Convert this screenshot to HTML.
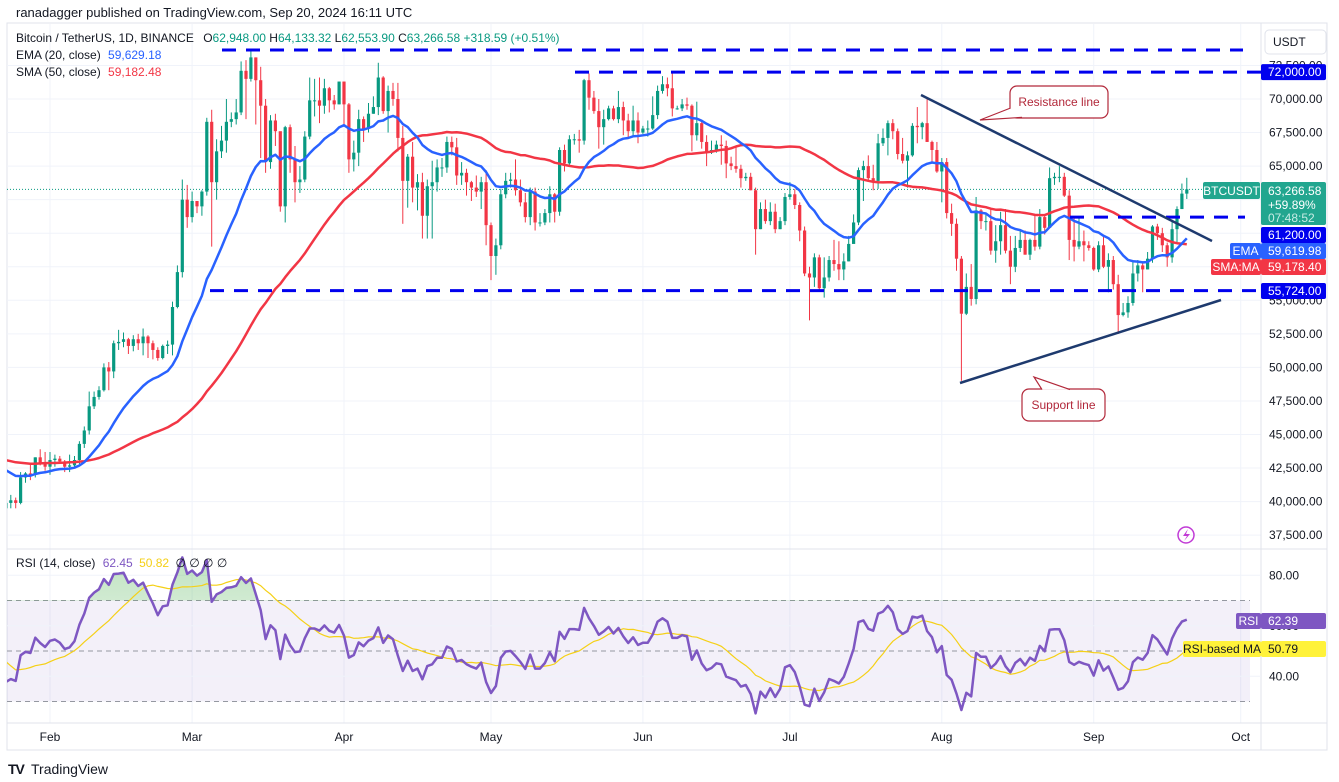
<!DOCTYPE html>
<html><head><meta charset="utf-8"><style>
html,body{margin:0;padding:0;background:#fff;}
svg{display:block;font-family:"Liberation Sans",sans-serif;}
</style></head><body>
<svg id="chart" width="1339" height="782" viewBox="0 0 1339 782">
<defs>
<clipPath id="mainClip"><rect x="7" y="24" width="1254" height="525"/></clipPath>
<clipPath id="rsiClip"><rect x="7" y="550" width="1254" height="173"/></clipPath>
<clipPath id="obClip"><rect x="7" y="550" width="1254" height="51"/></clipPath>
<linearGradient id="obGrad" x1="0" y1="0" x2="0" y2="1"><stop offset="0" stop-color="#4caf50" stop-opacity="0.35"/><stop offset="1" stop-color="#4caf50" stop-opacity="0.03"/></linearGradient>
</defs>
<rect x="0" y="0" width="1339" height="782" fill="#fff"/>
<text x="16" y="17" font-size="13" fill="#131722">ranadagger published on TradingView.com, Sep 20, 2024 16:11 UTC</text>
<rect x="7" y="23" width="1320" height="727" fill="none" stroke="#e0e3eb"/>
<g id="grid"></g>
<line x1="1261" y1="23" x2="1261" y2="750" stroke="#e0e3eb"/>
<line x1="7" y1="549" x2="1327" y2="549" stroke="#e0e3eb"/>
<line x1="7" y1="723" x2="1327" y2="723" stroke="#e0e3eb"/>
<g id="main" clip-path="url(#mainClip)"></g>
<g id="rsi"></g>
<g id="axes"></g>
<g id="legend">
<text x="16" y="42" font-size="12" fill="#131722">Bitcoin / TetherUS, 1D, BINANCE <tspan dx="6">O</tspan><tspan fill="#089981">62,948.00</tspan> <tspan>H</tspan><tspan fill="#089981">64,133.32</tspan> <tspan>L</tspan><tspan fill="#089981">62,553.90</tspan> <tspan>C</tspan><tspan fill="#089981">63,266.58 +318.59 (+0.51%)</tspan></text>
<text x="16" y="59" font-size="12" fill="#131722">EMA (20, close) <tspan dx="4" fill="#2962ff">59,629.18</tspan></text>
<text x="16" y="76" font-size="12" fill="#131722">SMA (50, close) <tspan dx="4" fill="#f23645">59,182.48</tspan></text>
<text x="16" y="567" font-size="12" fill="#131722">RSI (14, close) <tspan dx="4" fill="#7e57c2">62.45</tspan> <tspan dx="3" fill="#f5d016">50.82</tspan> <tspan dx="3">∅ ∅ ∅ ∅</tspan></text>
</g>
<g><rect x="1265" y="30" width="61" height="24" rx="4" fill="#fff" stroke="#e0e3eb"/><text x="1273" y="46" font-size="12" fill="#131722">USDT</text></g>
<g><text x="8" y="774" font-size="14" font-weight="900" fill="#131722" letter-spacing="-1">TV</text><text x="31" y="774" font-size="14" fill="#131722">TradingView</text></g>
</svg>
<script>
const NS="http://www.w3.org/2000/svg";
// prior history (Dec 4 – Jan 22), used only to seed indicators
const histCloses=[41.9,44.1,43.8,43.3,44.2,43.7,43.8,41.2,41.5,42.9,43.0,41.9,42.3,41.4,42.7,42.3,43.7,43.9,44.0,43.7,43.0,43.6,42.5,43.4,42.6,42.1,42.3,42.3,44.2,45.0,42.8,44.2,44.2,43.9,43.9,46.9,46.1,46.6,46.3,42.8,42.8,41.7,42.5,43.1,42.7,41.3,41.6,41.7,41.6,39.5];
// displayed closes Jan 23 – Sep 20 (thousands USDT)
const closes=[39.9,40.1,39.9,41.8,42.1,42.0,43.3,42.9,42.6,
43.1,43.2,43.0,42.6,42.7,43.1,44.3,45.3,47.1,47.8,48.3,50.0,49.7,51.8,51.9,52.1,51.6,52.1,51.8,52.3,51.8,51.3,50.7,51.6,51.7,54.5,57.1,62.5,61.2,
62.4,62.0,63.1,68.3,63.8,66.1,66.9,68.3,68.5,69.0,72.1,71.5,73.1,71.4,69.5,65.3,68.4,67.6,62.0,67.9,65.5,63.8,64.0,67.2,69.9,69.9,69.5,70.8,69.9,69.6,71.3,
69.6,65.5,66.0,68.5,67.8,68.9,69.4,71.6,69.1,70.6,70.0,67.1,63.9,65.7,63.4,63.8,61.3,63.5,63.8,64.9,64.9,66.8,66.4,64.3,64.5,63.8,63.4,63.1,63.8,60.6,
58.3,59.1,62.9,63.9,64.0,63.2,62.3,61.2,63.1,60.8,60.8,61.5,62.9,61.6,66.2,65.2,67.0,67.0,66.9,71.4,70.1,69.1,67.9,68.5,69.3,68.5,69.4,68.4,67.6,68.4,67.5,
67.8,67.8,68.8,70.6,71.1,70.8,69.3,69.3,69.6,69.5,67.3,68.2,66.8,66.0,66.2,66.6,66.5,65.2,65.0,64.8,64.1,64.2,63.2,60.3,61.8,60.9,61.6,60.3,60.9,62.7,
62.9,62.1,60.2,57.0,56.7,58.2,55.9,56.7,58.0,57.7,57.3,57.9,59.2,60.8,64.7,65.0,64.1,63.9,66.7,67.1,68.2,67.6,65.9,65.4,65.8,68.0,67.9,68.2,66.8,66.2,64.6,
65.3,61.5,60.7,58.1,54.0,56.0,55.1,61.7,60.9,60.9,58.7,59.4,60.6,58.7,57.5,58.9,59.5,58.4,59.5,59.0,61.2,60.4,64.1,64.2,64.2,62.8,59.5,59.0,59.4,59.1,58.9,
57.3,59.1,57.5,58.0,56.2,53.9,54.1,54.8,57.0,57.6,57.3,58.1,60.5,60.0,59.1,58.2,60.3,61.8,62.95,63.27];
const highs=[40.6,40.5,40.3,42.2,42.2,42.8,43.3,43.9,43.7,
43.7,43.5,43.4,43.1,43.5,43.4,44.5,45.6,48.2,48.2,48.6,50.3,50.4,52.0,52.8,52.6,52.2,52.4,52.5,52.9,52.4,52.0,51.5,51.7,52.0,54.9,57.6,64.0,63.6,
63.1,62.4,63.2,68.6,69.2,67.0,68.0,70.0,69.0,70.0,72.8,72.9,73.7,73.1,72.4,70.0,68.8,68.9,67.5,68.0,68.1,66.5,65.0,67.6,71.6,71.5,71.6,71.5,70.9,70.3,71.3,
71.3,69.7,66.9,69.2,68.7,69.7,70.2,72.7,71.7,71.0,71.2,71.2,68.0,65.9,66.8,64.4,64.5,64.0,65.4,65.5,65.6,67.2,67.2,67.1,65.3,64.8,63.9,64.3,64.2,64.7,
60.8,59.6,63.3,64.5,64.5,65.5,64.0,63.0,63.4,63.4,61.5,61.8,63.5,63.0,66.4,66.6,67.3,67.4,67.7,71.5,71.9,70.6,70.0,69.2,69.5,69.5,70.6,69.8,68.9,69.5,69.0,
68.0,68.4,70.2,71.0,71.7,71.6,71.9,69.5,70.0,70.1,69.6,69.8,68.4,67.3,66.9,66.9,67.3,66.9,65.7,66.4,65.1,64.5,64.5,63.4,62.3,62.5,62.3,62.2,61.2,63.0,
63.8,63.3,62.3,60.5,57.5,58.5,58.4,58.2,58.3,59.5,59.4,58.5,59.8,61.4,64.9,65.4,65.8,65.1,67.4,67.8,68.4,68.5,67.8,67.1,66.1,68.2,69.4,68.3,70.0,66.9,66.8,
65.6,65.6,62.2,61.1,58.3,57.0,57.7,62.7,61.8,61.4,61.8,60.6,61.6,61.8,59.8,59.8,60.2,60.2,59.6,61.4,61.8,61.4,64.9,64.5,65.0,64.5,63.2,61.1,61.2,60.2,59.4,
59.0,59.4,59.8,58.5,58.3,56.9,54.8,55.3,58.0,58.0,57.9,58.6,60.6,60.7,60.4,59.3,61.0,62.0,63.7,64.13];
const lows=[38.6,39.5,39.5,39.8,41.4,41.6,41.8,42.7,42.3,
42.0,42.6,42.8,42.2,42.2,42.5,42.8,44.0,45.0,46.9,47.6,48.2,48.3,49.2,51.3,51.5,51.0,51.2,51.3,50.9,50.7,50.6,50.5,50.6,51.0,50.9,54.4,56.7,60.4,
60.8,61.5,61.3,62.8,59.0,62.5,65.6,66.0,67.9,68.1,68.8,68.5,71.3,68.1,65.6,64.5,64.8,66.5,61.6,60.8,64.5,62.3,63.0,63.8,67.0,68.7,68.2,68.9,69.0,69.2,69.6,
68.1,64.5,64.6,65.0,66.8,67.5,68.9,68.8,68.9,67.5,69.5,66.1,60.7,61.9,62.3,61.7,59.6,59.6,59.6,63.1,64.2,64.5,65.8,63.6,63.6,62.8,62.4,62.7,61.8,59.1,
56.5,56.9,58.8,62.6,63.4,62.8,62.0,60.8,60.6,60.2,60.5,60.6,60.8,60.8,61.3,64.6,65.1,66.6,66.0,66.6,69.2,68.9,66.3,66.6,68.4,68.4,68.2,67.3,67.1,67.2,66.7,
67.4,67.2,67.7,68.5,70.4,70.2,68.7,69.2,69.1,69.2,66.1,66.9,66.3,65.0,65.9,66.0,65.1,64.1,64.7,64.5,63.4,63.9,63.2,58.4,60.3,60.7,60.6,60.0,60.3,60.6,
62.5,61.8,59.4,56.8,53.5,56.0,55.7,55.2,56.4,57.2,56.5,56.5,57.9,59.5,60.6,62.4,63.9,63.2,63.3,66.5,65.8,67.0,65.5,65.2,63.4,65.7,66.7,67.0,66.8,65.3,64.5,
62.3,61.1,59.8,57.2,49.0,53.9,54.6,54.7,60.3,60.2,58.4,57.8,58.4,58.5,56.2,57.1,58.6,58.4,58.0,58.7,58.8,59.9,60.4,63.6,63.8,62.7,58.0,57.9,58.8,57.9,58.7,
57.2,57.1,57.4,55.6,55.8,52.5,53.8,53.7,54.6,56.4,55.6,57.3,57.8,59.5,58.6,57.5,57.8,59.3,61.8,62.55];
const priceTicks=[72.5,70,67.5,65,62.5,60,57.5,55,52.5,50,47.5,45,42.5,40,37.5];
const rsiTicks=[80,60,40];
const monthLabels=["Feb","Mar","Apr","May","Jun","Jul","Aug","Sep","Oct"];
const monthDays=[0,29,60,90,121,151,182,213,243];
const levels=[73.65,72.0,61.2,55.724];

// axis functions
const dayOffset=-9; // first candle = Jan 23
function xDay(d){return 50+d*4.9;}
function xi(i){return xDay(i+dayOffset);}
function py(p){return 99-(p-70)/2.5*33.55;}
function ry(r){return 651-(r-50)*2.525;}
function el(tag,attrs,parent){const e=document.createElementNS(NS,tag);for(const k in attrs)e.setAttribute(k,attrs[k]);parent.appendChild(e);return e;}
function fmt(v){return v.toLocaleString("en-US",{minimumFractionDigits:2,maximumFractionDigits:2});}

const grid=document.getElementById("grid"),main=document.getElementById("main"),rsiG=document.getElementById("rsi"),axes=document.getElementById("axes");

// grid
monthDays.forEach((d,k)=>{
  const g=el("line",{x1:xDay(d),x2:xDay(d),y1:24,y2:723,stroke:"#f0f3fa"},grid);
  
  
  const t=el("text",{x:xDay(d),y:741,"font-size":12,fill:"#131722","text-anchor":"middle"},axes);
  t.textContent=monthLabels[k];
  
  
});
priceTicks.forEach(p=>{
  const g=el("line",{x1:7,x2:1261,y1:py(p),y2:py(p),stroke:"#f0f3fa"},grid);
  
  
  const t=el("text",{x:1269,y:py(p)+4,"font-size":12,fill:"#131722"},axes);
  t.textContent=fmt(p*1000);
  
  
});

// indicators
const all=histCloses.concat(closes);const H=histCloses.length;
const ema=[];all.forEach((c,j)=>{ema.push(j===0?c:ema[j-1]+(2/21)*(c-ema[j-1]));});
const sma=all.map((c,j)=>{if(j<49)return null;let s=0;for(let k=j-49;k<=j;k++)s+=all[k];return s/50;});
const rsi=new Array(all.length).fill(null);
{let ag=0,al=0;for(let j=1;j<all.length;j++){const ch=all[j]-all[j-1];const g=Math.max(ch,0),l=Math.max(-ch,0);
 if(j<=14){ag+=g/14;al+=l/14;if(j===14)rsi[j]=100-100/(1+ag/al);}else{ag=(ag*13+g)/14;al=(al*13+l)/14;rsi[j]=al===0?100:100-100/(1+ag/al);}}}
const rsiMA=rsi.map((r,j)=>{if(j<27)return null;let s=0;for(let k=j-13;k<=j;k++)s+=rsi[k];return s/14;});

// current price dotted
const last=closes[closes.length-1];
const dl=el("line",{x1:7,x2:1261,y1:py(last),y2:py(last),stroke:"#089981","stroke-dasharray":"1 2"},main);



// candles
closes.forEach((c,i)=>{
  const o=i===0?histCloses[H-1]:closes[i-1];
  const col=c>=o?"#089981":"#f23645";
  const x=xi(i);
  const g=el("g",{},main);
  
  
  el("line",{x1:x,x2:x,y1:py(highs[i]),y2:py(lows[i]),stroke:col,"stroke-width":1},g);
  const y1=py(Math.max(o,c)),y2=py(Math.min(o,c));
  el("rect",{x:x-1.6,y:y1,width:3.2,height:Math.max(1,y2-y1),fill:col},g);
});

// MAs
function linePts(arr,fn){const pts=[];closes.forEach((_,i)=>{const v=arr[i+H];if(v!=null)pts.push(xi(i).toFixed(1)+","+fn(v).toFixed(1));});return pts.join(" ");}
const smaL=el("polyline",{points:linePts(sma,py),fill:"none",stroke:"#f23645","stroke-width":2.5,"stroke-linejoin":"round"},main);


const emaL=el("polyline",{points:linePts(ema,py),fill:"none",stroke:"#2962ff","stroke-width":2.5,"stroke-linejoin":"round"},main);



// horizontal levels
const levelStart=[222,575,1070,210],levelEnd=[1243,1261,1245,1261];
levels.forEach((p,k)=>{
  const l=el("line",{x1:levelStart[k],x2:levelEnd[k],y1:py(p),y2:py(p),stroke:"#0000ee","stroke-width":3,"stroke-dasharray":"14 10"},main);
  
  
});
// trendlines
const rl=el("line",{x1:921,y1:95,x2:1212,y2:241,stroke:"#1e3a6e","stroke-width":2.5},main);


const sl=el("line",{x1:960,y1:383,x2:1221,y2:300,stroke:"#1e3a6e","stroke-width":2.5},main);



// callouts
function callout(x,y,w,h,tail,label,name){
  const g=el("g",{},main);
  
  
  el("rect",{x:x,y:y,width:w,height:h,rx:7,fill:"#fff",stroke:"#b2283a","stroke-width":1.2},g);
  el("polygon",{points:tail.map(p=>p.join(",")).join(" "),fill:"#fff"},g);
  el("polyline",{points:tail.map(p=>p.join(",")).join(" "),fill:"none",stroke:"#b2283a","stroke-width":1.2},g);
  const t=el("text",{x:x+w/2,y:y+h/2+4,"font-size":12,fill:"#b2283a","text-anchor":"middle"},g);
  t.textContent=label;
}
callout(1010,86,98,32,[[1010.6,108],[980,120],[1022,117.4]],"Resistance line","resistance-callout");
callout(1022,389,83,32,[[1042,389.6],[1034,377],[1070,389.6]],"Support line","support-callout");

// lightning icon
const li=el("g",{},main);


el("circle",{cx:1186,cy:535,r:8,fill:"none",stroke:"#c13ad6","stroke-width":1.5},li);
el("path",{d:"M1188,529 L1183,536 L1187,536 L1184,541 L1190,534 L1186,534 Z",fill:"#c13ad6"},li);

// RSI pane
const band=el("rect",{x:7,y:ry(70),width:1243,height:ry(30)-ry(70),fill:"#7e57c2","fill-opacity":0.09},rsiG);


rsiTicks.forEach(r=>{
  const g=el("line",{x1:7,x2:1261,y1:ry(r),y2:ry(r),stroke:"#f0f3fa"},rsiG);
  
  
  const t=el("text",{x:1269,y:ry(r)+4,"font-size":12,fill:"#131722"},axes);
  t.textContent=r.toFixed(2);
  
  
});
[70,50,30].forEach(r=>{
  const g=el("line",{x1:7,x2:1250,y1:ry(r),y2:ry(r),stroke:"#9598a1","stroke-dasharray":"5 4"},rsiG);
  
  
});
const rpts=linePts(rsi,ry);
const firstX=xi(0),lastX=xi(closes.length-1);
const ob=el("polygon",{points:firstX+","+ry(70)+" "+rpts+" "+lastX+","+ry(70),fill:"url(#obGrad)","clip-path":"url(#obClip)"},rsiG);


const rma=el("polyline",{points:linePts(rsiMA,ry),fill:"none",stroke:"#f5d016","stroke-width":1.2,"clip-path":"url(#rsiClip)"},rsiG);


const rl2=el("polyline",{points:rpts,fill:"none",stroke:"#7e57c2","stroke-width":2.5,"stroke-linejoin":"round","clip-path":"url(#rsiClip)"},rsiG);



// badges
function badge(y,h,bg,txt,label,lx,name,fg){
  const g=el("g",{},axes);
  
  
  if(label){el("rect",{x:lx,y:y,width:1261-lx,height:h,rx:2,fill:bg},g);const t=el("text",{x:(lx+1261)/2,y:y+h/2+4,"font-size":12,fill:fg||"#fff","text-anchor":"middle"},g);t.textContent=label;}
  el("rect",{x:1261,y:y,width:65,height:h,rx:2,fill:bg},g);
  const t2=el("text",{x:1268,y:y+h/2+4,"font-size":12,fill:fg||"#fff"},g);t2.textContent=txt;
  return g;
}
badge(py(72)-8,16,"#0000ee","72,000.00",null,0,"level-badge-72000");
const cb=badge(182,43,"#22a68f","",null,0,"last-price-badge");
{const t=el("text",{x:1268,y:195,"font-size":12,fill:"#fff"},cb);t.textContent=fmt(last*1000-3.42);
 const t2=el("text",{x:1268,y:209,"font-size":12,fill:"#fff"},cb);t2.textContent="+59.89%";
 const t3=el("text",{x:1268,y:222,"font-size":12,fill:"#c8ece5"},cb);t3.textContent="07:48:52";
 el("rect",{x:1203,y:182,width:57,height:17,rx:2,fill:"#22a68f"},cb);
 const t4=el("text",{x:1231.5,y:195,"font-size":12,fill:"#fff","text-anchor":"middle"},cb);t4.textContent="BTCUSDT";}
badge(227,16,"#0000ee","61,200.00",null,0,"level-badge-61200");
badge(243,16,"#2962ff",fmt(ema[all.length-1]*1000),"EMA",1230,"ema-badge");
badge(259,16,"#f23645",fmt(sma[all.length-1]*1000),"SMA:MA",1211,"sma-badge");
badge(283,16,"#0000ee","55,724.00",null,0,"level-badge-55724");
badge(613,16,"#7e57c2",rsi[all.length-1].toFixed(2),"RSI",1236,"rsi-badge");
badge(641,16,"#fff23a",rsiMA[all.length-1].toFixed(2),"RSI-based MA",1183,"rsi-ma-badge","#131722");
</script>
</body></html>
